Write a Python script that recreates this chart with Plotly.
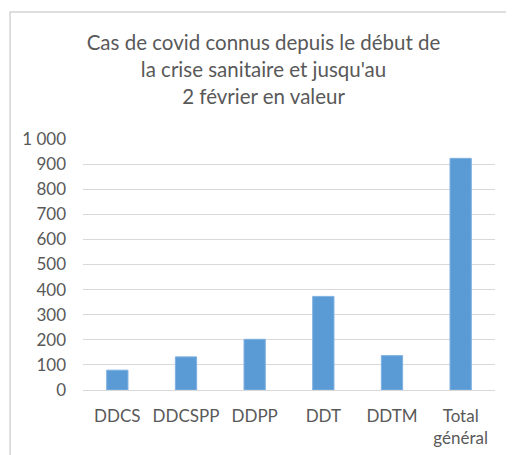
import plotly.graph_objects as go

categories = ["DDCS", "DDCSPP", "DDPP", "DDT", "DDTM", "Total<br>général"]
values = [79, 132, 202, 373, 137, 923]
tick_vals = [0, 100, 200, 300, 400, 500, 600, 700, 800, 900, 1000]
tick_text = ["0", "100", "200", "300", "400", "500", "600", "700", "800", "900", "1 000"]

title_text = ("Cas de covid connus depuis le début de<br>"
              "la crise sanitaire et jusqu'au<br>"
              "2 février en valeur")

font_family = "Lato, 'Open Sans', sans-serif"

fig = go.Figure(go.Bar(
    x=categories,
    y=values,
    marker=dict(color="#5b9bd5", line=dict(color="#7fb1e0", width=1)),
    width=0.31,
))

# the page body adds an 8px offset, so the figure coordinates are shifted
fig.update_layout(
    width=506,
    height=447,
    margin=dict(l=75, r=19, t=131, b=65, autoexpand=False),
    paper_bgcolor="white",
    plot_bgcolor="white",
    showlegend=False,
    font=dict(family=font_family, color="#595959", size=17),
    title=dict(
        text=title_text,
        x=0.505,
        xref="container",
        xanchor="center",
        y=0.905,
        yref="container",
        yanchor="top",
        font=dict(size=20.5, color="#595959", family=font_family),
    ),
)

fig.update_yaxes(
    range=[0, 1000],
    tickvals=tick_vals,
    ticktext=tick_text,
    showgrid=True,
    gridcolor="#d9d9d9",
    gridwidth=1.3,
    zeroline=False,
    showline=False,
    ticks="",
    ticklabelstandoff=16,
    automargin=False,
)

fig.update_xaxes(
    showline=True,
    linecolor="#d9d9d9",
    linewidth=1.3,
    ticks="",
    showgrid=False,
    ticklabelstandoff=10,
    automargin=False,
)

# outer chart border (Excel chart area), only left and top edges are in view
fig.add_shape(
    type="path",
    xref="paper", yref="paper",
    path="M -0.177,-2 L -0.177,1.506 L 2,1.506",
    line=dict(color="#d4d4d4", width=1.5),
    layer="above",
)

fig.write_html("out.html")
